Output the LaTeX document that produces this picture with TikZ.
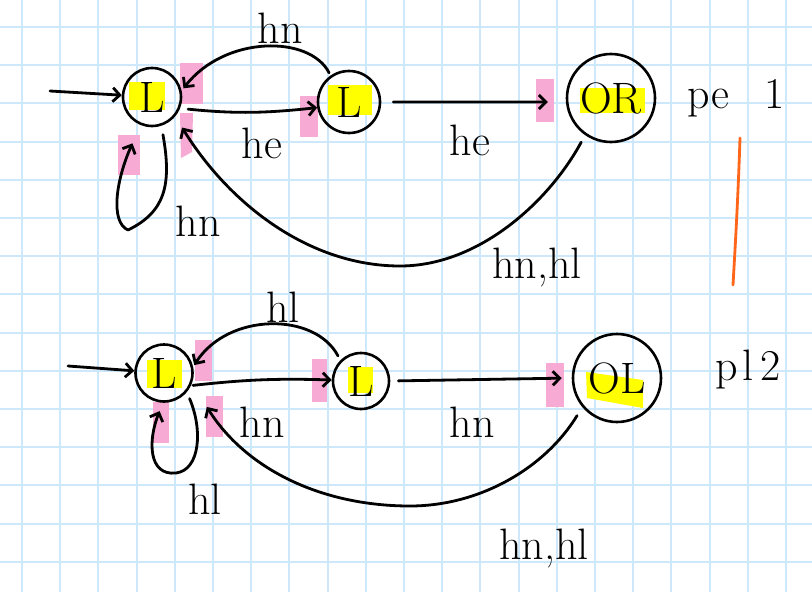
\documentclass[tikz,border=0pt]{standalone}
\usetikzlibrary{arrows.meta}
\definecolor{gridblue}{RGB}{204,232,250}
\definecolor{hlpink}{RGB}{246,170,212}
\definecolor{hlyellow}{RGB}{255,255,0}
\definecolor{penorange}{RGB}{255,102,26}
\newcommand{\mystatefont}{\fontsize{44}{44}\selectfont}
\newcommand{\mylabfont}{\fontsize{44}{44}\selectfont}
\begin{document}
\begin{tikzpicture}[x=1pt,y=-1pt,
  gridline/.style={gridblue, line width=2pt},
  ink/.style={line width=2.8pt, line cap=round, line join=round},
  arr/.style={ink, -{Straight Barb[length=7pt,width=14pt]}},
  statenode/.style={circle, draw, line width=2.6pt, inner sep=0pt, font=\mystatefont},
  lab/.style={font=\mylabfont, inner sep=0pt, anchor=base},
  pinkhl/.style={fill=hlpink, draw=none},
  yelhl/.style={fill=hlyellow, draw=none}]
\useasboundingbox (0,0) rectangle (812,592);
\fill[white] (0,0) rectangle (812,592);
% grid paper
\foreach \i in {0,...,20} \draw[gridline] ({22+38.2*\i},0) -- ({22+38.2*\i},592);
\foreach \j in {0,...,14} \draw[gridline] (0,{27+38.2*\j}) -- (812,{27+38.2*\j});
% yellow highlights
\fill[yelhl] (129,82) rectangle (165,110);
\fill[yelhl] (328,85) rectangle (372,115);
\fill[yelhl] (580,88) rectangle (645,113);
\fill[yelhl] (147,360) rectangle (182,388);
\fill[yelhl] (348,367) rectangle (373,393);
\fill[yelhl] (586,372) -- (643,380) -- (643,408) -- (587,398) -- cycle;
% pink highlights
\fill[pinkhl] (180,63) rectangle (203,104);
\fill[pinkhl] (300,96) rectangle (318,137);
\fill[pinkhl] (536,79) rectangle (554,122);
\fill[pinkhl] (118,135) rectangle (140,175);
\fill[pinkhl] (180,113) -- (193,113) -- (192,152) -- (181,158) -- cycle;
\fill[pinkhl] (195,340) rectangle (212,381);
\fill[pinkhl] (312,359) rectangle (327,402);
\fill[pinkhl] (546,363) rectangle (564,407);
\fill[pinkhl] (153,402) rectangle (169,443);
\fill[pinkhl] (206,396) rectangle (223,437);
% states, first automaton
\node[statenode, minimum size=58pt] (a1) at (152,97) {L};
\node[statenode, minimum size=62pt] (a2) at (349,102) {L};
\node[statenode, minimum size=88pt] (a3) at (611,98) {OR};
% states, second automaton
\node[statenode, minimum size=57pt] (b1) at (164,373) {L};
\node[statenode, minimum size=56pt] (b2) at (361,381) {L};
\node[statenode, minimum size=88pt] (b3) at (617,378) {OL};
% first automaton edges
\coordinate (s1) at (50,91);
\draw[arr] (s1) -- (a1);
\draw[arr, shorten <=3pt, shorten >=3pt] (a2.125) .. controls (310,35) and (225,35) .. (a1.12);
\draw[arr, shorten <=8pt] (a1.-22) to[bend right=6] (a2.190);
\draw[arr, shorten <=12pt, shorten >=18pt] (a2.east) -- (a3.185);
\draw[arr, shorten <=9pt, shorten >=20pt] (a1.-72) .. controls (172,185) and (165,212) .. (128,230) .. controls (110,222) and (116,180) .. (a1.-112);
\draw[arr, shorten <=8pt, shorten >=13pt] (a3.-125) .. controls (550,200) and (480,266) .. (400,266) .. controls (310,266) and (230,205) .. (a1.-40);
% second automaton edges
\coordinate (s2) at (68,366);
\draw[arr] (s2) -- (b1);
\draw[arr, shorten <=5pt, shorten >=2pt] (b2.135) .. controls (315,312) and (228,312) .. (b1.12);
\draw[arr, shorten <=2pt] (b1.-25) to[bend left=4] (b2.178);
\draw[arr, shorten <=8pt, shorten >=10pt] (b2.east) -- (b3.west);
\draw[arr, shorten <=7pt, shorten >=9pt] (b1.-40) .. controls (203,430) and (200,470) .. (176,473) .. controls (148,476) and (148,440) .. (b1.-92);
\draw[arr, shorten <=10pt, shorten >=28pt] (b3.-140) .. controls (545,468) and (480,506) .. (410,506) .. controls (320,506) and (245,468) .. (b1.-20);
% labels, first automaton
\node[lab] (l1) at (280,43) {hn};
\node[lab] (l2) at (262,158) {he};
\node[lab] (l3) at (470,155) {he};
\node[lab] (l4) at (198,236) {hn};
\node[lab] (l5) at (537,278) {hn,hl};
\node[lab] (l6) at (736,108) {pe\hspace{0.8em}1};
% labels, second automaton
\node[lab] (m1) at (283,322) {hl};
\node[lab] (m2) at (262,437) {hn};
\node[lab] (m3) at (472,437) {hn};
\node[lab] (m4) at (205,514) {hl};
\node[lab] (m5) at (544,559) {hn,hl};
\node[lab] (m6) at (748,380) {p\kern5pt l\kern7pt 2};
% orange stroke
\draw[penorange, line width=2.8pt, line cap=round] (740,138) .. controls (738,200) and (735,250) .. (733,285);
\end{tikzpicture}
\end{document}
